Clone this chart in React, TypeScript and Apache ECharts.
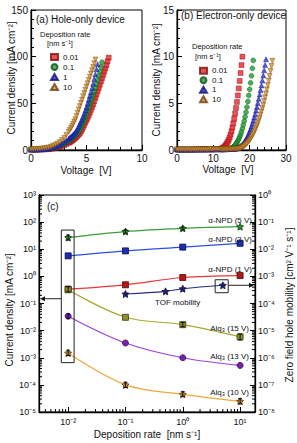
import React, { useEffect, useRef } from 'react';
import * as echarts from 'echarts';

const FONT = '"Liberation Sans", Arial, sans-serif';

// ---------- shared legend categories ----------
const rateNames = ['0.01', '0.1', '1', '10'];
const rateColors = ['#e8262a', '#1f9a32', '#2a2fd0', '#d8902a'];
const rateBorders = ['#7a1010', '#0d5015', '#10127a', '#6a4010'];
const rateSymbols = ['rect', 'circle', 'triangle', 'triangle'];
const rateRotate = [0, 0, 0, 180];

// ---------- panel (a): hole-only device ----------
const voltA = [0, 0.2, 0.4, 0.6, 0.8, 1, 1.2, 1.4, 1.6, 1.8, 2, 2.2, 2.4, 2.6, 2.8, 3, 3.2, 3.4,
  3.5, 3.6, 3.7, 3.8, 3.9, 4, 4.1, 4.2, 4.3, 4.4, 4.5, 4.6, 4.7, 4.8, 4.9, 5, 5.1, 5.2, 5.3, 5.4, 5.5, 5.6, 5.7, 5.8, 5.9, 6, 6.1, 6.2, 6.3, 6.4, 6.5, 6.6, 6.7, 6.8, 6.9, 7];
const holeJ001 = [0.3, 0.3, 0.4, 0.4, 0.5, 0.6, 0.7, 0.8, 1.0, 1.3, 1.7, 2.2, 2.8, 3.5, 4.3, 5.3, 6.4, 7.7,
  8.4, 9.2, 10.1, 11, 12, 13, 14.1, 15.3, 16.6, 18, 20, 22, 24.5, 27, 29.5, 32, 34.5, 37, 40, 43, 46, 49, 52.5, 56, 59.5, 63, 66.5, 70, 73.5, 77, 80.5, 84, 87.5, 91, 95, 99];
const holeJ01 = [0.4, 0.4, 0.5, 0.5, 0.6, 0.7, 0.9, 1.1, 1.4, 1.8, 2.3, 2.9, 3.6, 4.5, 5.5, 6.7, 8.1, 9.7,
  10.6, 11.5, 12.5, 13.5, 14.6, 15.7, 17, 18.5, 20.2, 22, 24.5, 27, 29.5, 32, 35, 38, 41.5, 45, 48.5, 52, 55.5, 59, 63, 67, 71, 75, 79.5, 84, 89, 94];
const holeJ1 = [0.5, 0.5, 0.6, 0.7, 0.8, 0.9, 1.1, 1.4, 1.8, 2.3, 3, 3.8, 4.7, 5.8, 7.1, 8.6, 10.3, 12.2,
  13.2, 14.3, 15.4, 16.6, 17.8, 19, 21, 23, 25.5, 28, 30.5, 33, 36, 39, 42.5, 46, 50, 54, 58, 62, 66.5, 71, 76, 81, 86.5, 92];
const holeJ10 = [0.8, 0.9, 1.0, 1.1, 1.3, 1.5, 1.8, 2.2, 2.8, 3.5, 4.5, 5.6, 7, 8.7, 10.6, 13, 16, 19.5,
  21.5, 23.5, 25.7, 28, 30.5, 33, 36.5, 40, 43.5, 47, 50.5, 54, 57.5, 61, 64.5, 68, 71.5, 75, 78.5, 82, 85.5, 89, 93, 97];

// ---------- panel (b): electron-only device ----------
const voltB = [0, 0.5, 1, 1.5, 2, 2.5, 3, 3.5, 4, 4.5, 5, 5.5, 6, 6.5, 7, 7.5, 8, 8.5, 9, 9.5, 10, 10.5, 11, 11.5, 12,
  12.25, 12.5, 12.75, 13, 13.25, 13.5, 13.75, 14, 14.25, 14.5, 14.75, 15, 15.25, 15.5, 15.75, 16, 16.25, 16.5, 16.75, 17,
  17.25, 17.5, 17.75, 18, 18.25, 18.5, 18.75, 19, 19.25, 19.5, 19.75, 20, 20.25, 20.5, 20.75, 21, 21.25, 21.5, 21.75, 22,
  22.25, 22.5, 22.75, 23, 23.25, 23.5, 23.75, 24, 24.25, 24.5, 24.75, 25, 25.25, 25.5, 25.75, 26, 26.25, 26.5, 26.75, 27];
const elecJ001 = [0.05, 0.05, 0.05, 0.05, 0.05, 0.05, 0.05, 0.05, 0.05, 0.06, 0.06, 0.06, 0.06, 0.07, 0.07, 0.07, 0.07, 0.08, 0.08, 0.08, 0.09, 0.1, 0.1, 0.11, 0.12,
  0.15, 0.19, 0.25, 0.33, 0.43, 0.56, 0.72, 0.9, 1.1, 1.35, 1.65, 2.0, 2.4, 2.85, 3.35, 3.9, 4.5, 5.15, 5.85, 6.6, 7.4, 8.25, 9.1, 10.0];
const elecJ01 = [0.05, 0.05, 0.05, 0.05, 0.05, 0.05, 0.05, 0.05, 0.05, 0.05, 0.05, 0.05, 0.06, 0.06, 0.06, 0.06, 0.06, 0.06, 0.07, 0.07, 0.07, 0.07, 0.07, 0.08, 0.08,
  0.08, 0.08, 0.09, 0.09, 0.1, 0.1, 0.11, 0.12, 0.13, 0.14,
  0.16, 0.2, 0.25, 0.32, 0.41, 0.52, 0.65, 0.8, 0.98, 1.18, 1.4, 1.65, 1.95, 2.3, 2.7, 3.1, 3.55, 4.05, 4.6, 5.2, 5.85, 6.5, 7.2, 7.95, 8.75, 9.6];
const elecJ1 = [0.05, 0.05, 0.05, 0.05, 0.05, 0.05, 0.05, 0.05, 0.05, 0.05, 0.05, 0.05, 0.06, 0.06, 0.06, 0.06, 0.06, 0.06, 0.07, 0.07, 0.07, 0.07, 0.07, 0.08, 0.08,
  0.08, 0.08, 0.08, 0.09, 0.09, 0.09, 0.1, 0.1, 0.1, 0.11, 0.11, 0.12, 0.12, 0.13, 0.14, 0.15,
  0.17, 0.2, 0.24, 0.29, 0.35, 0.42, 0.5, 0.6, 0.71, 0.84, 0.98, 1.14, 1.32, 1.52, 1.74, 1.98, 2.24, 2.52, 2.82, 3.14, 3.48, 3.84, 4.22, 4.62, 5.04, 5.48, 5.94, 6.42, 6.92, 7.44, 7.98, 8.54, 9.12, 9.72];
const elecJ10 = [0.05, 0.05, 0.05, 0.05, 0.05, 0.05, 0.05, 0.05, 0.05, 0.05, 0.05, 0.05, 0.06, 0.06, 0.06, 0.06, 0.06, 0.06, 0.07, 0.07, 0.07, 0.07, 0.07, 0.08, 0.08,
  0.08, 0.08, 0.08, 0.08, 0.09, 0.09, 0.09, 0.09, 0.1, 0.1, 0.1, 0.1, 0.11, 0.11, 0.12, 0.12, 0.13, 0.13, 0.14, 0.15,
  0.17, 0.2, 0.24, 0.29, 0.35, 0.42, 0.5, 0.59, 0.69, 0.8, 0.92, 1.05, 1.2, 1.36, 1.53, 1.72, 1.92, 2.14, 2.38, 2.63, 2.9, 3.18, 3.48, 3.8, 4.13, 4.48, 4.85, 5.24, 5.64, 6.06, 6.5, 6.96, 7.44, 7.94, 8.46, 9.0, 9.55];

// ---------- panel (c): deposition-rate dependence ----------
const rates = [0.01, 0.1, 1, 10];
const npd5V = [27, 45, 59, 68];
const npd3V = [5.7, 8.7, 12, 16.6];
const npd1V = [0.34, 0.49, 0.91, 1.07];
const alq15V = [0.32, 0.031, 0.0166, 0.0059];
const alq13V = [0.034, 0.0035, 0.001, 0.00052];
const alq10V = [0.0015, 0.0001, 0.000045, 0.000025];
const tofRates = [0.1, 0.5, 1, 5];
const tofMobility = [0.000224, 0.00028, 0.00035, 0.00047];
// error bars: [rate, low, high]
const errBars = [
  [0.01, 22, 33], [0.1, 39, 52], [1, 52, 66],
  [0.01, 0.27, 0.42], [1, 0.014, 0.02], [10, 0.0045, 0.0075],
  [0.01, 0.028, 0.041],
  [0.01, 0.0012, 0.0019], [0.1, 0.00008, 0.000125], [1, 0.000038, 0.000056], [10, 0.00002, 0.000031],
];

const leftDecades = [-5, -4, -3, -2, -1, 0, 1, 2, 3];
const rightDecades = [-8, -7, -6, -5, -4, -3, -2, -1, 0];
const minorMult = [2, 3, 4, 5, 6, 7, 8, 9];

const SUP: Record<string, string> = { '-': '⁻', '0': '⁰', '1': '¹', '2': '²', '3': '³', '4': '⁴', '5': '⁵', '6': '⁶', '7': '⁷', '8': '⁸', '9': '⁹' };
const sup = (n: number) => String(n).split('').map((c) => SUP[c]).join('');
const powLabel = (v: number) => {
  const l = Math.log10(v);
  const r = Math.round(l);
  if (Math.abs(l - r) > 1e-6) return '';
  return '10' + sup(r);
};

const STAR = 'path://M0,-1L0.29,-0.4L0.95,-0.31L0.48,0.15L0.59,0.81L0,0.5L-0.59,0.81L-0.48,0.15L-0.95,-0.31L-0.29,-0.4Z';

const X_MIN_C = 0.0031;
const X_MAX_C = 18.2;

function baseAxis(extra: any) {
  return {
    axisLine: { onZero: false, lineStyle: { color: '#000', width: 1.3 } },
    axisTick: { inside: true, length: 5, lineStyle: { color: '#000', width: 1 } },
    minorTick: { show: true, splitNumber: 5, length: 3, lineStyle: { color: '#000', width: 1 } },
    splitLine: { show: false },
    minorSplitLine: { show: false },
    axisLabel: { color: '#111', fontSize: 10, fontFamily: FONT, margin: 3 },
    ...extra,
  };
}

function logAxis(extra: any) {
  return {
    type: 'log',
    logBase: 10,
    axisLine: { onZero: false, lineStyle: { color: '#000', width: 1.3 } },
    axisTick: { inside: true, length: 5, lineStyle: { color: '#000', width: 1 } },
    minorTick: { show: false },
    splitLine: { show: false },
    axisLabel: { color: '#111', fontSize: 9, fontFamily: FONT, margin: 3, formatter: powLabel },
    ...extra,
  };
}

export default function App() {
  const ref = useRef<HTMLDivElement>(null);

  useEffect(() => {
    document.body.style.margin = '0';
    if (!ref.current) return;
    const chart = echarts.init(ref.current, undefined, { renderer: 'svg' });

    const symbolSeries = (arrs: number[][], volts: number[], gi: number) =>
      arrs.map((arr, k) => ({
        type: 'scatter',
        name: rateNames[k],
        xAxisIndex: gi,
        yAxisIndex: gi,
        symbol: rateSymbols[k],
        symbolRotate: rateRotate[k],
        symbolSize: 5,
        itemStyle: { color: rateColors[k], borderColor: rateBorders[k], borderWidth: 0.5 },
        data: arr.map((j, i) => [volts[i], j]),
        z: 3 + k,
      }));

    const lineC = (name: string, vals: number[], xs: number[], yi: number, line: string, fill: string, border: string, symbol: string, size = 6) => ({
      type: 'line',
      name,
      xAxisIndex: 2,
      yAxisIndex: yi,
      smooth: 0.35,
      symbol,
      symbolSize: size,
      showSymbol: true,
      lineStyle: { color: line, width: 1.2 },
      itemStyle: { color: fill, borderColor: border, borderWidth: 0.8 },
      data: vals.map((v, i) => [xs[i], v]),
      z: 4,
    });

    const leftMinor: number[][] = [];
    leftDecades.slice(0, -1).forEach((e) => minorMult.forEach((m) => leftMinor.push([1, m * Math.pow(10, e)])));
    const rightMinor: number[][] = [];
    rightDecades.slice(0, -1).forEach((e) => minorMult.forEach((m) => rightMinor.push([1, m * Math.pow(10, e)])));
    const bottomMinor: number[][] = [];
    [-3, -2, -1, 0, 1].forEach((e) =>
      minorMult.forEach((m) => {
        const v = m * Math.pow(10, e);
        if (v > X_MIN_C && v < X_MAX_C) bottomMinor.push([v, 1]);
      })
    );

    const tickStyle = { stroke: '#000', lineWidth: 1 };

    const option: any = {
      animation: false,
      backgroundColor: '#fff',
      textStyle: { fontFamily: FONT },
      grid: [
        { left: 31, top: 10, width: 111, height: 140, show: true, borderColor: '#000', borderWidth: 1, backgroundColor: 'transparent' },
        { left: 177, top: 10, width: 109, height: 140, show: true, borderColor: '#000', borderWidth: 1, backgroundColor: 'transparent' },
        { left: 39, top: 195, width: 216, height: 217, show: true, borderColor: '#000', borderWidth: 1, backgroundColor: 'transparent' },
      ],
      xAxis: [
        baseAxis({ gridIndex: 0, type: 'value', min: 0, max: 10, interval: 5 }),
        baseAxis({ gridIndex: 1, type: 'value', min: 0, max: 30, interval: 10 }),
        logAxis({ gridIndex: 2, min: X_MIN_C, max: X_MAX_C, axisLabel: { color: '#111', fontSize: 9, fontFamily: FONT, margin: 5, formatter: powLabel } }),
      ],
      yAxis: [
        baseAxis({ gridIndex: 0, type: 'value', min: 0, max: 150, interval: 50 }),
        baseAxis({ gridIndex: 1, type: 'value', min: 0, max: 15, interval: 5 }),
        logAxis({ gridIndex: 2, min: 1e-5, max: 1e3, splitNumber: 10 }),
        logAxis({ gridIndex: 2, min: 1e-8, max: 1, splitNumber: 10, position: 'right' }),
      ],
      legend: [
        {
          data: rateNames, left: 50, top: 52, orient: 'vertical', itemWidth: 7, itemHeight: 6, itemGap: 0, padding: 0,
          selectedMode: false, textStyle: { fontSize: 8, fontFamily: FONT, color: '#111', lineHeight: 10 },
        },
        {
          data: rateNames, left: 199, top: 66, orient: 'vertical', itemWidth: 7, itemHeight: 6, itemGap: 0, padding: 0,
          selectedMode: false, textStyle: { fontSize: 8, fontFamily: FONT, color: '#111', lineHeight: 9.5 },
        },
      ],
      series: [
        ...symbolSeries([holeJ001, holeJ01, holeJ1, holeJ10], voltA, 0),
        ...symbolSeries([elecJ001, elecJ01, elecJ1, elecJ10], voltB, 1),
        lineC('α-NPD (5 V)', npd5V, rates, 2, '#3a9e3a', '#2f8f2f', '#0a3a0a', STAR, 7),
        lineC('α-NPD (3 V)', npd3V, rates, 2, '#2a4ee0', '#1a2fb0', '#0a0a50', 'rect', 6),
        lineC('α-NPD (1 V)', npd1V, rates, 2, '#e83838', '#b01818', '#500808', 'rect', 6),
        lineC('Alq3 (15 V)', alq15V, rates, 2, '#a8a830', '#8e8e2a', '#3a3a0a', 'rect', 6),
        lineC('Alq3 (13 V)', alq13V, rates, 2, '#a040d8', '#7a20b0', '#30084a', 'circle', 6),
        lineC('Alq3 (10 V)', alq10V, rates, 2, '#f0a838', '#c08a30', '#4a300a', STAR, 7),
        lineC('TOF mobility', tofMobility, tofRates, 3, '#2a2a80', '#202070', '#101040', STAR, 7),
        {
          type: 'custom', name: 'err', xAxisIndex: 2, yAxisIndex: 2, silent: true, z: 6,
          encode: { x: 0, y: [1, 2] },
          data: errBars,
          renderItem: (params: any, api: any) => {
            const x = api.value(0);
            const lo = api.coord([x, api.value(1)]);
            const hi = api.coord([x, api.value(2)]);
            return {
              type: 'group',
              children: [
                { type: 'line', shape: { x1: lo[0], y1: lo[1], x2: hi[0], y2: hi[1] }, style: { stroke: '#111', lineWidth: 1 } },
                { type: 'line', shape: { x1: lo[0] - 2, y1: lo[1], x2: lo[0] + 2, y2: lo[1] }, style: { stroke: '#111', lineWidth: 1 } },
                { type: 'line', shape: { x1: hi[0] - 2, y1: hi[1], x2: hi[0] + 2, y2: hi[1] }, style: { stroke: '#111', lineWidth: 1 } },
              ],
            };
          },
        },
        {
          type: 'custom', name: 'minorL', xAxisIndex: 2, yAxisIndex: 2, silent: true, clip: false, z: 7,
          data: leftMinor,
          renderItem: (params: any, api: any) => {
            const cs = params.coordSys;
            const y = api.coord([1, api.value(1)])[1];
            return { type: 'line', shape: { x1: cs.x, y1: y, x2: cs.x + 3, y2: y }, style: tickStyle };
          },
        },
        {
          type: 'custom', name: 'minorR', xAxisIndex: 2, yAxisIndex: 3, silent: true, clip: false, z: 7,
          data: rightMinor,
          renderItem: (params: any, api: any) => {
            const cs = params.coordSys;
            const y = api.coord([1, api.value(1)])[1];
            return { type: 'line', shape: { x1: cs.x + cs.width - 3, y1: y, x2: cs.x + cs.width, y2: y }, style: tickStyle };
          },
        },
        {
          type: 'custom', name: 'minorB', xAxisIndex: 2, yAxisIndex: 2, silent: true, clip: false, z: 7,
          data: bottomMinor,
          renderItem: (params: any, api: any) => {
            const cs = params.coordSys;
            const x = api.coord([api.value(0), 1])[0];
            return { type: 'line', shape: { x1: x, y1: cs.y + cs.height, x2: x, y2: cs.y + cs.height - 3 }, style: tickStyle };
          },
        },
      ],
    };

    chart.setOption(option);

    const P = (x: number, y: number, yi = 2) => chart.convertToPixel({ xAxisIndex: 2, yAxisIndex: yi } as any, [x, y]) as number[];
    const grid = { x: 39, y: 195, w: 216, h: 217 };

    const b1a = P(0.0076, 51);
    const b1b = P(0.0127, 0.00066);
    const arrowL = P(0.0076, 0.15);
    const b2a = P(3.67, 0.00075, 3);
    const b2b = P(6.2, 0.00025, 3);
    const arrowR = P(6.2, tofMobility[3], 3);

    const t = (text: string, x: number, y: number, size: number, extra: any = {}) => ({
      type: 'text', x, y, silent: true, z: 20,
      style: { text, fontSize: size, fontFamily: FONT, fill: '#111', align: 'left', verticalAlign: 'middle', ...extra },
    });
    const rt = (text: string, x: number, y: number, size: number) => ({
      type: 'text', x, y, rotation: Math.PI / 2, silent: true, z: 20,
      style: { text, fontSize: size, fontFamily: FONT, fill: '#111', align: 'center', verticalAlign: 'middle' },
    });
    const stroke = { stroke: '#222', lineWidth: 1, fill: 'none' };

    chart.setOption({
      graphic: [
        t('(a) Hole-only device', 36, 19, 10),
        t('Deposition rate', 40, 34, 7.5),
        t('[nm s⁻¹]', 47, 43, 7.5),
        t('(b) Electron-only device', 181, 15, 10),
        t('Deposition rate', 192, 46, 7.5),
        t('[nm s⁻¹]', 195, 56, 7.5),
        rt('Current density [mA cm⁻²]', 11, 78, 10),
        rt('Current density [mA cm⁻²]', 156, 80, 10),
        t('Voltage  [V]', 86, 170, 10, { align: 'center' }),
        t('Voltage  [V]', 228, 169, 10, { align: 'center' }),
        t('(c)', 47, 206, 10),
        rt('Current density [mA cm⁻²]', 9, 310, 10),
        rt('Zero field hole mobility [cm² V⁻¹ s⁻¹]', 289, 305, 10),
        t('Deposition rate  [nm s⁻¹]', 147, 434, 10, { align: 'center' }),
        t('α-NPD (5 V)', 252, 220, 8, { align: 'right' }),
        t('α-NPD (3 V)', 252, 239, 8, { align: 'right' }),
        t('α-NPD (1 V)', 252, 269, 8, { align: 'right' }),
        t('TOF mobility', 155, 302, 8),
        t('Alq₃ (15 V)', 249, 328, 8, { align: 'right' }),
        t('Alq₃ (13 V)', 249, 356, 8, { align: 'right' }),
        t('Alq₃ (10 V)', 249, 392, 8, { align: 'right' }),
        { type: 'rect', z: 15, silent: true, shape: { x: b1a[0], y: b1a[1], width: b1b[0] - b1a[0], height: b1b[1] - b1a[1] }, style: stroke },
        { type: 'line', z: 15, silent: true, shape: { x1: arrowL[0], y1: arrowL[1], x2: grid.x + 5, y2: arrowL[1] }, style: { stroke: '#222', lineWidth: 1 } },
        { type: 'polygon', z: 15, silent: true, shape: { points: [[grid.x + 1, arrowL[1]], [grid.x + 6, arrowL[1] - 2.5], [grid.x + 6, arrowL[1] + 2.5]] }, style: { fill: '#111' } },
        { type: 'rect', z: 15, silent: true, shape: { x: b2a[0], y: b2a[1], width: b2b[0] - b2a[0], height: b2b[1] - b2a[1] }, style: stroke },
        { type: 'line', z: 15, silent: true, shape: { x1: arrowR[0], y1: arrowR[1], x2: grid.x + grid.w - 5, y2: arrowR[1] }, style: { stroke: '#222', lineWidth: 1 } },
        { type: 'polygon', z: 15, silent: true, shape: { points: [[grid.x + grid.w - 1, arrowR[1]], [grid.x + grid.w - 6, arrowR[1] - 2.5], [grid.x + grid.w - 6, arrowR[1] + 2.5]] }, style: { fill: '#111' } },
      ],
    });

    return () => chart.dispose();
  }, []);

  return <div ref={ref} style={{ width: 297, height: 443 }} />;
}
